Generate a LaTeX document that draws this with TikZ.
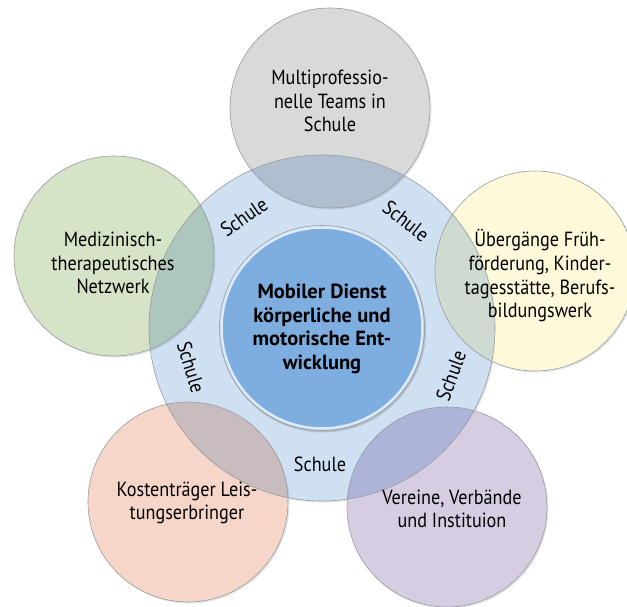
\documentclass[tikz,border=0pt]{standalone}
\usepackage{fontspec}
\setmainfont{PT Sans}[FakeStretch=0.886]
\newfontfamily\boldfam{PT Sans}[FakeStretch=1.0]
\usetikzlibrary{calc}
\definecolor{ringc}{RGB}{207,224,243}
\definecolor{innerc}{RGB}{126,174,224}
\definecolor{innerrim}{RGB}{222,234,247}
\definecolor{grayc}{RGB}{217,217,217}
\definecolor{greenc}{RGB}{213,227,199}
\definecolor{yellowc}{RGB}{255,249,219}
\definecolor{pinkc}{RGB}{246,214,200}
\definecolor{purplec}{RGB}{214,205,227}
\definecolor{grayx}{RGB}{176,191,207}
\definecolor{greenx}{RGB}{173,199,190}
\definecolor{yellowx}{RGB}{207,219,209}
\definecolor{pinkx}{RGB}{200,188,191}
\definecolor{purplex}{RGB}{174,180,216}
\definecolor{edgec}{RGB}{150,155,160}
\tikzset{
  outline/.style={draw=edgec, line width=0.6pt},
  shadowc/.style={fill=black, opacity=0.10},
  txt/.style={align=center, font=\fontsize{20.5}{23.7}\selectfont, inner sep=0pt},
  btxt/.style={align=center, font=\boldfam\bfseries\fontsize{20.5}{23.7}\selectfont, inner sep=0pt},
  lbl/.style={font=\fontsize{20.5}{23.7}\selectfont, inner sep=0pt}
}
\begin{document}
\begin{tikzpicture}[x=1pt,y=-1pt]
\useasboundingbox (0,0) rectangle (627,607);
\clip (0,0) rectangle (627,607);
% centre and satellites
\coordinate (C) at (322,328);
\coordinate (T) at (330,108);
\coordinate (L) at (114,256);
\coordinate (R) at (535,271);
\coordinate (BL) at (188,502);
\coordinate (BR) at (447,507);
% ring
\fill[shadowc] ($(C)+(1.5,1.5)$) circle[radius=173];
\fill[ringc] (C) circle[radius=173];
% satellite shadows and fills
\foreach \p in {T,L,R,BL,BR}{\fill[shadowc] ($(\p)+(1.5,1.5)$) circle[radius=100];}
\fill[grayc] (T) circle[radius=100];
\fill[greenc] (L) circle[radius=100];
\fill[yellowc] (R) circle[radius=100];
\fill[pinkc] (BL) circle[radius=100];
\fill[purplec] (BR) circle[radius=100];
% overlaps (multiply)
\begin{scope}
  \clip (C) circle[radius=173];
  \fill[grayx] (T) circle[radius=100];
  \fill[greenx] (L) circle[radius=100];
  \fill[yellowx] (R) circle[radius=100];
  \fill[pinkx] (BL) circle[radius=100];
  \fill[purplex] (BR) circle[radius=100];
\end{scope}
% outlines
\draw[outline] (C) circle[radius=173];
\foreach \p in {T,L,R,BL,BR}{\draw[outline] (\p) circle[radius=100];}
% inner circle
\fill[black, opacity=0.15] ($(C)+(1,1.5)$) circle[radius=103];
\draw[edgec, line width=0.6pt] (C) circle[radius=102.5];
\fill[innerc] (C) circle[radius=100.5];
\draw[innerrim, line width=2.5pt] (C) circle[radius=100.5];
% texts
\node[btxt] (center) at (322,329) {Mobiler Dienst\\körperliche und\\motorische Ent-\\wicklung};
\node[txt] (top) at (330,101) {Multiprofessio-\\nelle Teams in\\Schule};
\node[txt] (left) at (113,263) {Medizinisch-\\therapeutisches\\Netzwerk};
\node[txt] (right) at (540,276) {Übergänge Früh-\\förderung, Kinder-\\tagesstätte, Berufs-\\bildungswerk};
\node[txt] (bl) at (187,503) {Kostenträger Leis-\\tungserbringer};
\node[txt] (br) at (452,509) {Vereine, Verbände\\und Instituion};
% Schule labels
\node[lbl, rotate=-38] (s1) at (406,221) {Schule};
\node[lbl, rotate=35] (s2) at (244,217) {Schule};
\node[lbl, rotate=-73] (s3) at (191,367) {Schule};
\node[lbl, rotate=0] (s4) at (320,464) {Schule};
\node[lbl, rotate=70] (s5) at (451,376) {Schule};
\end{tikzpicture}
\end{document}
